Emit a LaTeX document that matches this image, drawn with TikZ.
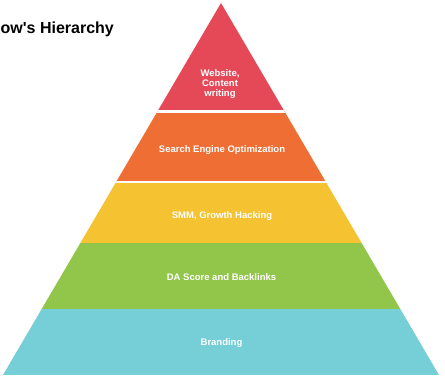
\documentclass[tikz,border=0pt]{standalone}
\usepackage{fontspec}
\setmainfont{Liberation Sans}
\newfontfamily\plainsans{Liberation Sans}
\definecolor{cred}{HTML}{E54958}
\definecolor{corange}{HTML}{EF6E33}
\definecolor{cyellow}{HTML}{F5C232}
\definecolor{cgreen}{HTML}{92C64B}
\definecolor{cblue}{HTML}{76CED6}
\tikzset{
  lbl/.style={text=white, font=\bfseries\fontsize{9.5}{10}\selectfont, align=center, inner sep=0pt},
  gapline/.style={draw=white, line width=#1},
}
\begin{document}
\begin{tikzpicture}[x=1pt, y=-1pt]
\useasboundingbox (0,0) rectangle (445,378);
\node[anchor=base west, inner sep=0pt, font=\plainsans\bfseries\fontsize{16}{18}\selectfont] (title) at (0.5,33.3) {ow's Hierarchy};
\begin{scope}
  \clip (221,3) -- (439,375) -- (3,375) -- cycle;
  \fill[cred] (0,0) rectangle (445,111.5);
  \fill[corange] (0,111.5) rectangle (445,181.8);
  \fill[cyellow] (0,181.8) rectangle (445,243);
  \fill[cgreen] (0,243) rectangle (445,309);
  \fill[cblue] (0,309) rectangle (445,375);
  \draw[gapline=2.2pt] (0,111.5) -- (445,111.5);
  \draw[gapline=1.4pt] (0,181.8) -- (445,181.8);
\end{scope}
\node[lbl] (l1) at (220,84.5) {Website,\\Content\\writing};
\node[lbl] (l2) at (222,150) {Search Engine Optimization};
\node[lbl] (l3) at (222,216.5) {SMM, Growth Hacking};
\node[lbl] (l4) at (221.5,276.7) {DA Score and Backlinks};
\node[lbl] (l5) at (221.5,342.7) {Branding};
\end{tikzpicture}
\end{document}
